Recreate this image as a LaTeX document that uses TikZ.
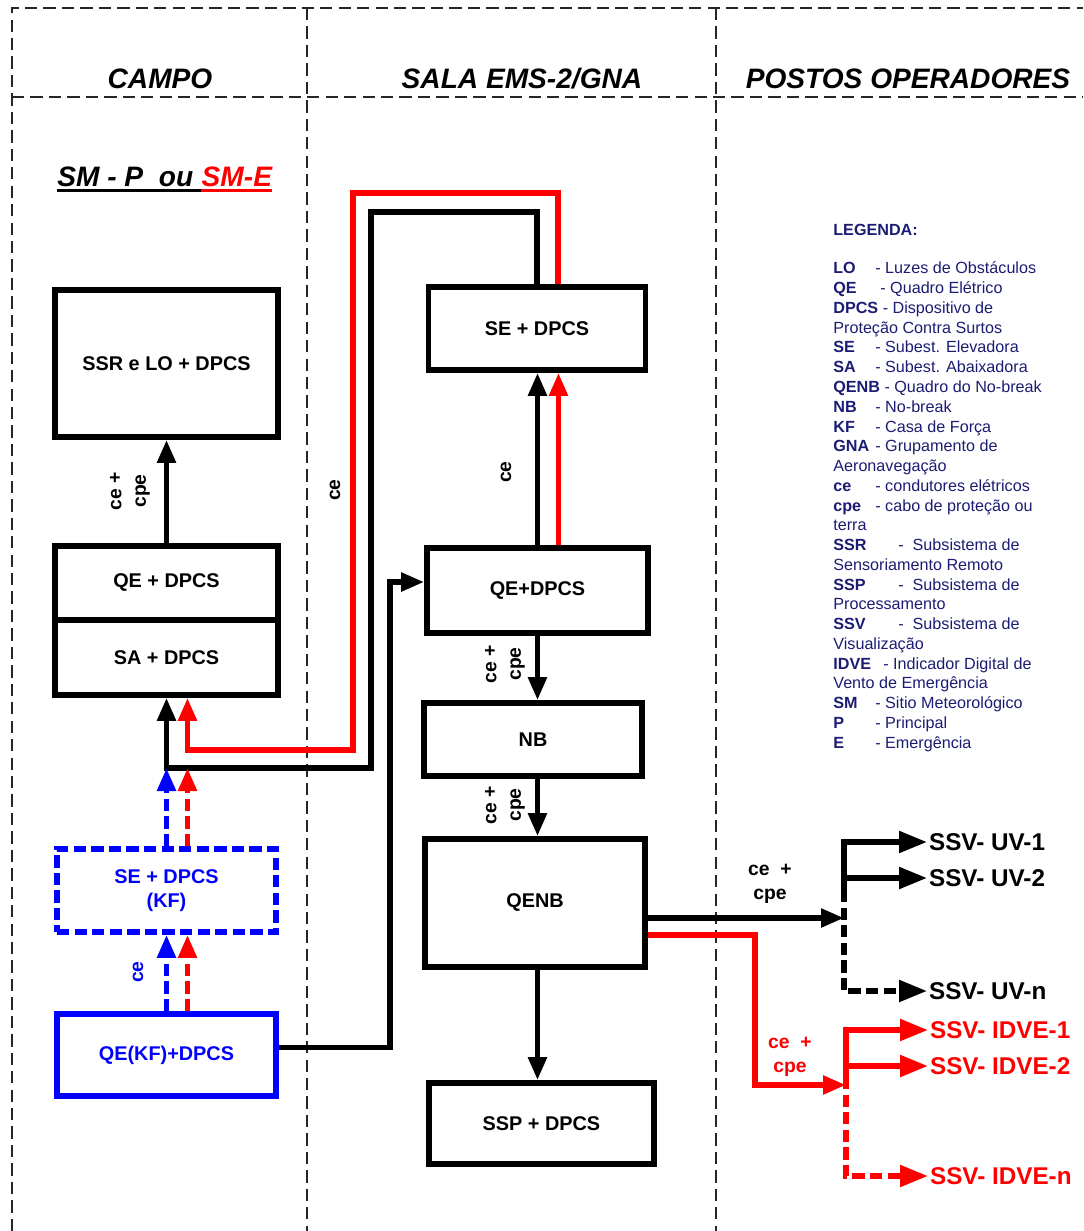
\documentclass[tikz,border=0pt]{standalone}
\usepackage{fontspec}
\setmainfont{Liberation Sans}
\usetikzlibrary{positioning,arrows.meta,calc}

\definecolor{legblue}{RGB}{28,28,115}
\newcommand{\lgd}[3]{\makebox[#1][l]{\textbf{#2}}#3}

\begin{document}
\begin{tikzpicture}[
    x=0.02cm, y=-0.02cm,
    >={Triangle[length=0.46cm,width=0.36cm]},
    font=\bfseries,
    frame/.style  = {line width=1.1pt, dash pattern=on 7pt off 3.5pt, black!85},
    head/.style   = {font=\fontsize{16}{19}\selectfont\bfseries\itshape, inner sep=0pt},
    box/.style    = {draw, line width=3.3pt, align=center, inner sep=0pt,
                     font=\fontsize{11.3}{13.6}\selectfont\bfseries},
    wire/.style   = {line width=3.1pt},
    dwire/.style  = {wire, dash pattern=on 7pt off 3pt},
    lbl/.style    = {font=\fontsize{11}{14}\selectfont\bfseries, align=center, inner sep=0pt},
    ssv/.style    = {font=\fontsize{13.8}{16}\selectfont\bfseries, anchor=west, inner sep=1pt},
    big/.style    = {-{Triangle[length=0.56cm,width=0.42cm]}},
    legend/.style = {font=\fontsize{9.2}{11.25}\selectfont, text=legblue, align=left,
                     inner sep=0pt},
]
\useasboundingbox (0,0) rectangle (1083,1231);

%% -- frame and headers --------------------------------------------------
\draw[frame] (12,1231) -- (12,8) -- (1083,8);
\draw[frame] (12,97) -- (1083,97);
\draw[frame] (307,8) -- (307,1231);
\draw[frame] (716,8) -- (716,1231);

\node[head, anchor=base] (hCampo)  at (160,88) {CAMPO};
\node[head, anchor=base] (hSala)   at (522,88) {SALA EMS-2/GNA};
\node[head, anchor=base] (hPostos) at (908,88) {POSTOS OPERADORES};

\node[head, anchor=base west] (smP) at (57,186) {SM - P\ \ ou\ \mbox{}};
\node[head, red, anchor=base west] (smE) at (smP.base east) {SM-E};
\draw[line width=1.7pt] ([yshift=-2.5pt]smP.base west) -- ([yshift=-2.5pt]smP.base east);
\draw[line width=1.7pt, red] ([yshift=-2.5pt]smE.base west) -- ([yshift=-2.5pt]smE.base east);

%% -- campo --------------------------------------------------------------
\node[box, minimum width=4.46cm, minimum height=2.94cm] (ssr) at (166.5,363.5) {SSR e LO + DPCS};
\node[box, minimum width=4.46cm, minimum height=1.48cm] (qeL) at (166.5,583) {QE + DPCS};
\node[box, minimum width=4.46cm, minimum height=1.5cm]  (saL) at (166.5,657.5) {SA + DPCS};
\node[box, blue, dash pattern=on 7pt off 3pt, minimum width=4.38cm, minimum height=1.66cm]
  (seKF) at (166.5,890.5) {SE + DPCS\\(KF)};
\node[box, blue, minimum width=4.38cm, minimum height=1.64cm] (qeKF) at (166.5,1055) {QE(KF)+DPCS};

\draw[wire,->] (qeL.north) -- (ssr.south);
\node[lbl, rotate=90] (lSsr) at (130,491) {ce +\\cpe};

%% -- sala EMS-2/GNA -----------------------------------------------------
\node[box, minimum width=4.34cm, minimum height=1.66cm] (seM)  at (537,328.5) {SE + DPCS};
\node[box, minimum width=4.42cm, minimum height=1.7cm]  (qeM)  at (537.5,590.5) {QE+DPCS};
\node[box, minimum width=4.36cm, minimum height=1.46cm] (nb)   at (533,739.5) {NB};
\node[box, minimum width=4.4cm,  minimum height=2.56cm] (qenb) at (535,903) {QENB};
\node[box, minimum width=4.5cm,  minimum height=1.62cm] (ssp)  at (541.5,1123.5) {SSP + DPCS};

% return loop SE -> SA
\coordinate (bkTop) at (371,212);
\coordinate (bkBot) at (371,768);
\coordinate (rdTop) at (353,193);
\coordinate (rdBot) at (353,750);
\coordinate (rdSeM) at ([xshift=.42cm]seM.north);
\coordinate (rdSaL) at ([xshift=.42cm]saL.south);
\draw[wire,->] (seM.north) |- (bkTop) -- (bkBot) -| (saL.south);
\draw[wire,red,->] (rdSeM) |- (rdTop) -- (rdBot) -| (rdSaL);
\node[lbl, rotate=90] (lLoop) at (335,490) {ce};

% casa de forca
\coordinate (rdKFup) at ([xshift=.42cm]seKF.north);
\coordinate (rdKFlo) at ([xshift=.42cm]qeKF.north);
\draw[dwire,blue,->] (seKF.north) -- (seKF.north |- bkBot);
\draw[dwire,red,->] (rdKFup) -- (rdKFup |- bkBot);
\draw[dwire,blue,->] (qeKF.north) -- (seKF.south);
\draw[dwire,red,->] (rdKFlo) -- (rdKFlo |- seKF.south);
\node[lbl, blue, rotate=90] (lKF) at (138,972) {ce};

\coordinate (kfBend) at (390,582);
\draw[wire,->] ([yshift=.15cm]qeKF.east) -| (kfBend) -- (qeM.west |- kfBend);

% vertical chain
\coordinate (rdQeM) at ([xshift=.42cm]qeM.north);
\draw[wire,->] (qeM.north) -- (qeM.north |- seM.south);
\draw[wire,red,->] (rdQeM) -- (rdQeM |- seM.south);
\node[lbl, rotate=90] (lSeM) at (506,472) {ce};
\draw[wire,->] (qeM.south) -- (qeM.south |- nb.north);
\node[lbl, rotate=90] (lNb) at (505,664) {ce +\\cpe};
\draw[wire,->] (qeM.south |- nb.south) -- (qeM.south |- qenb.north);
\node[lbl, rotate=90] (lQenb) at (505,805) {ce +\\cpe};
\draw[wire,->] (qeM.south |- qenb.south) -- (qeM.south |- ssp.north);

%% -- postos operadores --------------------------------------------------
\node[ssv] (uv1) at (927,842) {SSV- UV-1};
\node[ssv] (uv2) at (927,878) {SSV- UV-2};
\node[ssv] (uvn) at (927,991) {SSV- UV-n};
\node[ssv, red] (id1) at (928,1030) {SSV- IDVE-1};
\node[ssv, red] (id2) at (928,1066) {SSV- IDVE-2};
\node[ssv, red] (idn) at (928,1176) {SSV- IDVE-n};

\coordinate (uvMid) at (844,890);
\coordinate (idMid) at (846,1077);
\draw[wire,big] (uvMid) |- (uv1.west);
\draw[wire,big] (uvMid |- uv2.west) -- (uv2.west);
\draw[dwire,big] (uvMid) |- (uvn.west);
\draw[wire,red,big] (idMid) |- (id1.west);
\draw[wire,red,big] (idMid |- id2.west) -- (id2.west);
\draw[dwire,red,big] (idMid) |- (idn.west);

\coordinate (bkOut) at ([yshift=-.3cm]qenb.east);
\coordinate (rdOut) at ([yshift=-.64cm]qenb.east);
\coordinate (rdBend) at (755,1085);
\draw[wire,->] (bkOut) -- (bkOut -| uvMid);
\draw[wire,red,->] (rdOut) -| (rdBend) -- (rdBend -| idMid);
\node[lbl] (lUv) at (770,884) {ce\ \ +\\cpe};
\node[lbl, red] (lId) at (790,1057) {ce\ \ +\\cpe};

%% -- legenda ------------------------------------------------------------
\node[legend, anchor=north west] (leg) at (833,224) {%
\textbf{LEGENDA:}\\[0.37cm]
\lgd{0.84cm}{LO}{- Luzes de Obstáculos}\\
\lgd{0.94cm}{QE}{- Quadro Elétrico}\\
\textbf{DPCS} - Dispositivo de\\
Proteção Contra Surtos\\
\lgd{0.84cm}{SE}{- Subest. Elevadora}\\
\lgd{0.84cm}{SA}{- Subest. Abaixadora}\\
\textbf{QENB} - Quadro do No-break\\
\lgd{0.84cm}{NB}{- No-break}\\
\lgd{0.84cm}{KF}{- Casa de Força}\\
\lgd{0.84cm}{GNA}{- Grupamento de}\\
Aeronavegação\\
\lgd{0.84cm}{ce}{- condutores elétricos}\\
\lgd{0.84cm}{cpe}{- cabo de proteção ou}\\
terra\\
\lgd{1.3cm}{SSR}{-\ \ Subsistema de}\\
Sensoriamento Remoto\\
\lgd{1.3cm}{SSP}{-\ \ Subsistema de}\\
Processamento\\
\lgd{1.3cm}{SSV}{-\ \ Subsistema de}\\
Visualização\\
\lgd{1.0cm}{IDVE}{- Indicador Digital de}\\
Vento de Emergência\\
\lgd{0.84cm}{SM}{- Sitio Meteorológico}\\
\lgd{0.84cm}{P}{- Principal}\\
\lgd{0.84cm}{E}{- Emergência}};

\end{tikzpicture}
\end{document}
